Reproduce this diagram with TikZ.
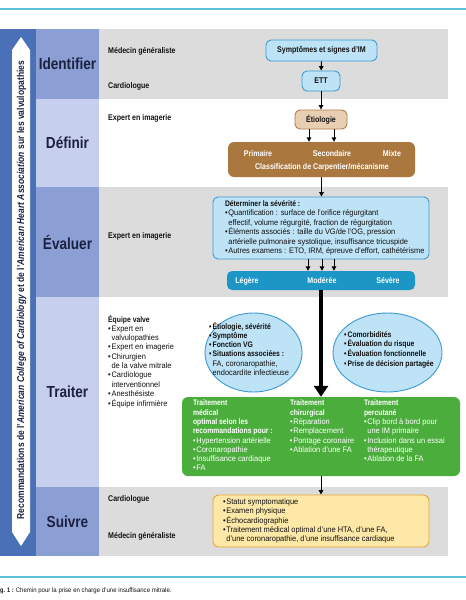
\documentclass[tikz,border=0pt]{standalone}
\usepackage{fontspec}
\setmainfont{Liberation Sans}[FakeStretch=0.93,BoldFeatures={FakeStretch=0.85},BoldItalicFeatures={FakeStretch=0.85}]
\usetikzlibrary{arrows.meta,shapes.geometric}
\definecolor{cyanline}{HTML}{5BBFDE}
\definecolor{barblue}{HTML}{4A70B8}
\definecolor{stdark}{HTML}{8C9FD5}
\definecolor{stlight}{HTML}{C7CFEE}
\definecolor{rowgray}{HTML}{DCDCDC}
\definecolor{bfill}{HTML}{BEE2F6}
\definecolor{bline}{HTML}{3B9AD3}
\definecolor{tanfill}{HTML}{E8CFB4}
\definecolor{tanline}{HTML}{B27C48}
\definecolor{brownbox}{HTML}{AA773F}
\definecolor{sevbar}{HTML}{1C97C5}
\definecolor{greenbox}{HTML}{4BAE3C}
\definecolor{yfill}{HTML}{FDE8A8}
\definecolor{yline}{HTML}{E8A53C}
\definecolor{navy}{HTML}{1C2141}
\definecolor{ink}{HTML}{111111}
\newcommand\fsb{\fontsize{8}{9.3}\selectfont}
\newcommand\bu{\makebox[3.4pt][l]{•}}
\newcommand\ci{\hspace*{3.4pt}}
\newcommand\ca[1]{\makebox[97pt][l]{#1}}
\newcommand\cb[1]{\makebox[74pt][l]{#1}}
\begin{document}
\begin{tikzpicture}[x=1pt,y=-1pt,
  stage/.style={rectangle, inner sep=0, minimum width=63pt, font=\fontsize{16}{18}\selectfont\bfseries, text=navy},
  role/.style={anchor=base west, inner sep=0, font=\fontsize{8.3}{9.3}\selectfont\bfseries, text=ink},
  bbox/.style={rectangle, rounded corners=5pt, draw=bline, fill=bfill, line width=0.9pt, inner sep=0, font=\fontsize{8.3}{9.3}\selectfont\bfseries, text=ink},
  tbox/.style={rectangle, rounded corners=5pt, draw=tanline, fill=tanfill, line width=0.9pt, inner sep=0, font=\fontsize{8.3}{9.3}\selectfont\bfseries, text=ink},
  ell/.style={ellipse, draw=bline, fill=bfill, line width=0.9pt, inner sep=0},
  wtxt/.style={anchor=base, inner sep=0, text=white, font=\fontsize{8.3}{9.3}\selectfont\bfseries},
  ltxt/.style={anchor=base west, inner sep=0, font=\fsb, text=ink},
  arr/.style={-{Triangle[width=4.5pt,length=4.5pt]}, line width=1pt}]
\useasboundingbox (0,0) rectangle (466,600);
\fill[white] (0,0) rectangle (466,600);
% rules
\draw[cyanline, line width=1.3pt] (0,9) -- (466,9);
\draw[cyanline, line width=1.3pt] (0,577) -- (466,577);
% grey rows
\fill[rowgray] (99,29) rectangle (448,99);
\fill[rowgray] (99,187) rectangle (448,297);
\fill[rowgray] (99,487) rectangle (448,556);
% left bar
\fill[barblue] (0,29) rectangle (36,556);
\fill[white] (21,37) -- (30,50) -- (30,532) -- (21,546) -- (12,532) -- (12,50) -- cycle;
\node[rotate=90, inner sep=0, font=\fontsize{10}{11}\selectfont\bfseries, text=navy] (vt) at (21.5,290)
  {Recommandations de l'\textit{American College of Cardiology} et de l'\textit{American Heart Association} sur les valvulopathies};
% stage cells
\node[stage, fill=stdark, minimum height=70pt] (sId) at (67.5,64) {Identifier};
\node[stage, fill=stlight, minimum height=88pt] (sDe) at (67.5,143) {Définir};
\node[stage, fill=stdark, minimum height=110pt] (sEv) at (67.5,242) {Évaluer};
\node[stage, fill=stlight, minimum height=190pt] (sTr) at (67.5,392) {Traiter};
\node[stage, fill=stdark, minimum height=69pt] (sSu) at (67.5,521.5) {Suivre};
% roles
\node[role] (r1) at (108,53) {Médecin généraliste};
\node[role] (r2) at (108,88) {Cardiologue};
\node[role] (r3) at (108,120) {Expert en imagerie};
\node[role] (r4) at (108,238) {Expert en imagerie};
\node[ltxt] (r5) at (108,322) {\begin{tabular}[t]{@{}l@{}}\textbf{Équipe valve}\\\bu Expert en\\\ci valvulopathies\\\bu Expert en imagerie\\\bu Chirurgien\\\ci de la valve mitrale\\\bu Cardiologue\\\ci interventionnel\\\bu Anesthésiste\\\bu Équipe infirmière\end{tabular}};
\node[role] (r6) at (108,501) {Cardiologue};
\node[role] (r7) at (108,538) {Médecin généraliste};
% identify / define
\node[bbox, minimum width=111pt, minimum height=21pt] (sym) at (321.5,50.5) {Symptômes et signes d'IM};
\node[bbox, minimum width=38pt, minimum height=20pt] (ett) at (321,81) {ETT};
\node[tbox, minimum width=52pt, minimum height=19pt] (eti) at (321,119.5) {Étiologie};
\node[rectangle, rounded corners=6pt, fill=brownbox, minimum width=187pt, minimum height=35pt, inner sep=0] (cls) at (321.5,159.5) {};
\node[wtxt] (p1) at (258,156) {Primaire};
\node[wtxt] (p2) at (332,156) {Secondaire};
\node[wtxt] (p3) at (392,156) {Mixte};
\node[wtxt] (p4) at (322,169) {Classification de Carpentier/mécanisme};
\draw[arr] (sym) -- (ett);
\draw[arr] (ett) -- (eti);
\draw[arr] ([xshift=-12pt]eti.south) -- ([xshift=-12pt]eti.south |- cls.north);
\draw[arr] ([xshift=13pt]eti.south) -- ([xshift=13pt]eti.south |- cls.north);
% evaluate
\node[bbox, font=\fsb, minimum width=216pt, minimum height=62pt] (sev) at (321,228)
 {\makebox[192pt][l]{\begin{tabular}{@{}l@{}}\textbf{Déterminer la sévérité :}\\\bu Quantification : surface de l'orifice régurgitant\\\ci effectif, volume régurgité, fraction de régurgitation\\\bu Éléments associés : taille du VG/de l'OG, pression\\\ci artérielle pulmonaire systolique, insuffisance tricuspide\\\bu Autres examens : ETO, IRM, épreuve d'effort, cathétérisme\end{tabular}}};
\draw[arr] (cls.south) -- (cls.south |- sev.north);
\node[rectangle, rounded corners=5pt, fill=sevbar, minimum width=188pt, minimum height=19pt, inner sep=0] (lvl) at (321,280.5) {};
\node[wtxt] (l1) at (247,283.5) {Légère};
\node[wtxt] (l2) at (322,283.5) {Modérée};
\node[wtxt] (l3) at (388,283.5) {Sévère};
\draw[arr] ([xshift=-13pt]sev.south) -- ([xshift=-13pt]lvl.north);
\draw[arr] ([xshift=1pt]sev.south) -- ([xshift=1pt]lvl.north);
\draw[arr] ([xshift=13pt]sev.south) -- ([xshift=13pt]lvl.north);
% treat
\node[ell, minimum width=97pt, minimum height=79pt] (eL) at (253.5,352.5) {};
\node[ltxt] (eLt) at (209,329) {\begin{tabular}[t]{@{}l@{}}\textbf{\bu Étiologie, sévérité}\\\textbf{\bu Symptôme}\\\textbf{\bu Fonction VG}\\\textbf{\bu Situations associées :}\\\ci FA, coronaropathie,\\\ci endocardite infectieuse\end{tabular}};
\node[ell, minimum width=109pt, minimum height=79pt] (eR) at (387.5,352.5) {};
\node[ltxt] (eRt) at (344,337) {\begin{tabular}[t]{@{}l@{}}\textbf{\bu Comorbidités}\\\textbf{\bu Évaluation du risque}\\\textbf{\bu Évaluation fonctionnelle}\\\textbf{\bu Prise de décision partagée}\end{tabular}};
\node[rectangle, rounded corners=6pt, fill=greenbox, minimum width=278pt, minimum height=79pt, inner sep=0, text=white, font=\fsb] (grn) at (321,436.5)
 {\makebox[256pt][l]{\begin{tabular}{@{}l@{}l@{}l@{}}
 \ca{\textbf{Traitement}} & \cb{\textbf{Traitement}} & \textbf{Traitement}\\
 \ca{\textbf{médical}} & \cb{\textbf{chirurgical}} & \textbf{percutané}\\
 \ca{\textbf{optimal selon les}} & \cb{\bu Réparation} & \bu Clip bord à bord pour\\
 \ca{\textbf{recommandations pour :}} & \cb{\bu Remplacement} & \ci une IM primaire\\
 \ca{\bu Hypertension artérielle} & \cb{\bu Pontage coronaire} & \bu Inclusion dans un essai\\
 \ca{\bu Coronaropathie} & \cb{\bu Ablation d'une FA} & \ci thérapeutique\\
 \ca{\bu Insuffisance cardiaque} & \cb{} & \bu Ablation de la FA\\
 \ca{\bu FA} & \cb{} & \\
 \end{tabular}}};
\draw[line width=4.5pt, -{Triangle[width=14pt,length=11pt]}] (lvl.south) -- (grn.north);
% follow
\node[rectangle, rounded corners=6pt, draw=yline, fill=yfill, line width=0.9pt, minimum width=216pt, minimum height=52pt, inner sep=0, font=\fsb, text=ink] (yel) at (321,521)
 {\makebox[196pt][l]{\begin{tabular}{@{}l@{}}\bu Statut symptomatique\\\bu Examen physique\\\bu Échocardiographie\\\bu Traitement médical optimal d'une HTA, d'une FA,\\\ci d'une coronaropathie, d'une insuffisance cardiaque\end{tabular}}};
\draw[arr] (grn.south) -- (yel.north);
% caption
\node[anchor=base west, inner sep=0, font=\fontsize{6.5}{8}\selectfont, text=ink] (cap) at (0,592) {\textbf{g. 1 :} Chemin pour la prise en charge d'une insuffisance mitrale.};
\end{tikzpicture}
\end{document}
